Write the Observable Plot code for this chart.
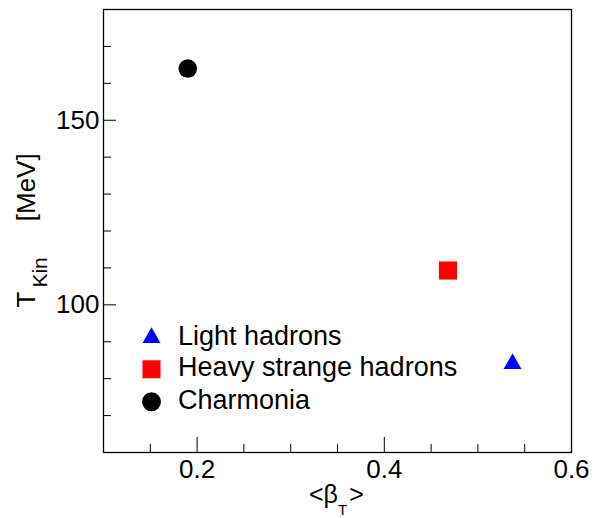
<!DOCTYPE html>
<html>
<head>
<meta charset="utf-8">
<script src="https://cdn.jsdelivr.net/npm/d3@7"></script>
<script src="https://cdn.jsdelivr.net/npm/@observablehq/plot@0.6"></script>
<style>
  html, body { margin: 0; padding: 0; background: #fff; }
  #chart svg { display: block; }
</style>
</head>
<body>
<div id="chart"></div>
<script>
// Kinetic freeze-out temperature vs. mean transverse flow velocity
const species = ["Light hadrons", "Heavy strange hadrons", "Charmonia"];
const meanBetaT = [0.537, 0.468, 0.19];
const tKin = [84, 109.3, 164];
const markerSymbols = ["triangle", "square", "circle"];
const markerColors = ["#0000ff", "#ff0000", "#000000"];

// axis ticks (ROOT-style: major + minor, drawn inside the frame)
const xMajor = [0.2, 0.4, 0.6];
const xMinor = [0.15, 0.25, 0.3, 0.35, 0.45, 0.5, 0.55];
const xTickLabels = ["0.2", "0.4", "0.6"];
const yMajor = [100, 150];
const yMinor = [70, 80, 90, 110, 120, 130, 140, 160, 170];
const yTickLabels = ["100", "150"];

const FONT = '"Liberation Sans", Arial, Helvetica, sans-serif';
const margin = {top: 9, right: 24, bottom: 66, left: 103};
const W = 595, H = 518;

const points = species.map((name, i) => ({
  name, beta: meanBetaT[i], t: tKin[i], symbol: markerSymbols[i], color: markerColors[i]
}));

// marker radii chosen so the symbols have similar visual size
const markerR = {triangle: 6.7, square: 10.2, circle: 9.3};

const chart = Plot.plot({
  width: W,
  height: H,
  marginTop: margin.top,
  marginRight: margin.right,
  marginBottom: margin.bottom,
  marginLeft: margin.left,
  style: {fontFamily: FONT, background: "#fff", color: "#000"},
  x: {domain: [0.1, 0.6]},
  y: {domain: [60, 180]},
  marks: [
    Plot.axisX(xMinor, {tickSize: -8, fill: "none", label: null}),
    Plot.axisX(xMajor, {
      tickSize: -15, tickPadding: 22, fontSize: 26, label: null,
      tickFormat: d => xTickLabels[xMajor.indexOf(d)]
    }),
    Plot.axisY(yMinor, {tickSize: -8, fill: "none", label: null}),
    Plot.axisY(yMajor, {
      tickSize: -13, tickPadding: 17, fontSize: 26, label: null,
      tickFormat: d => yTickLabels[yMajor.indexOf(d)]
    }),
    Plot.frame({stroke: "#000", strokeWidth: 1.3}),
    ...points.map(p => Plot.dot([p], {
      x: "beta", y: "t", symbol: p.symbol, r: markerR[p.symbol],
      fill: p.color, stroke: "none"
    }))
  ]
});

document.getElementById("chart").append(chart);

// Axis titles and legend (rich text with subscripts)
const svg = d3.select(chart);
const x0 = margin.left, x1 = W - margin.right;
const y0 = margin.top, y1 = H - margin.bottom;
const cx = (x0 + x1) / 2, cy = (y0 + y1) / 2;

// y title: T_Kin [MeV]
const yTitle = svg.append("text")
  .attr("transform", `translate(34.5,${cy + 77}) rotate(-90)`)
  .attr("text-anchor", "start")
  .attr("font-family", FONT).attr("font-size", 26).attr("fill", "#000");
yTitle.append("tspan").text("T");
yTitle.append("tspan").attr("font-size", 21).attr("dx", 4).attr("dy", 12.7).text("Kin");
yTitle.append("tspan").attr("dx", 36).attr("dy", -12.7).text("[MeV]");

// x title: <β_T>
const xTitle = svg.append("text")
  .attr("transform", `translate(${cx - 28},${y1 + 51})`)
  .attr("text-anchor", "start")
  .attr("font-family", FONT).attr("font-size", 25).attr("fill", "#000");
xTitle.append("tspan").text("<β");
xTitle.append("tspan").attr("font-size", 15).attr("dy", 12).text("T");
xTitle.append("tspan").attr("dx", 2).attr("dy", -12).text(">");

// legend
const legend = svg.append("g")
  .attr("text-anchor", "start")
  .attr("font-family", FONT).attr("font-size", 27).attr("fill", "#000");
const legendSize = {triangle: 140, square: 324, circle: 283};
const symbolType = {triangle: d3.symbolTriangle, square: d3.symbolSquare, circle: d3.symbolCircle};
const rowBaselines = [344.7, 376.3, 408.7];
points.forEach((p, i) => {
  const base = rowBaselines[i];
  legend.append("path")
    .attr("transform", `translate(${x0 + 48.5},${base - 7})`)
    .attr("d", d3.symbol(symbolType[p.symbol], legendSize[p.symbol])())
    .attr("fill", p.color);
  legend.append("text")
    .attr("x", x0 + 75).attr("y", base)
    .text(p.name);
});
</script>
</body>
</html>
